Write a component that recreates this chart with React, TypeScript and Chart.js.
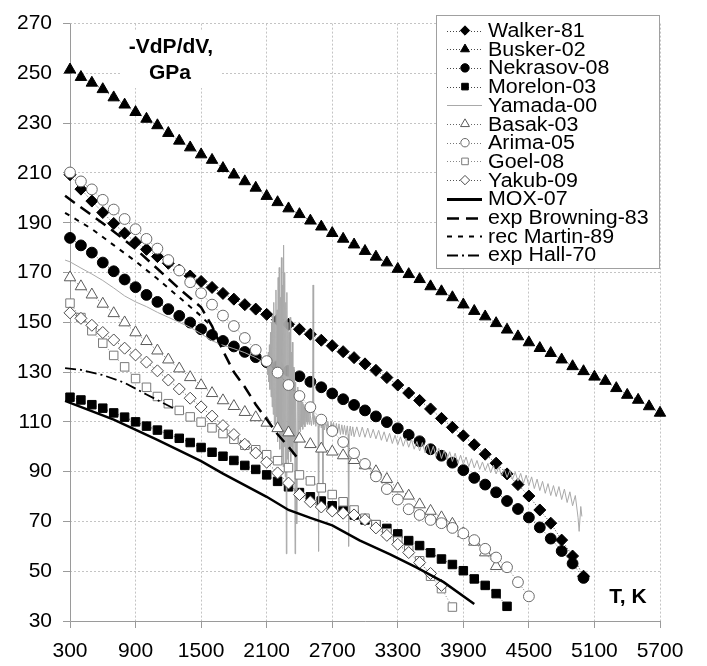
import React, { useEffect, useRef } from "react";
import { Chart, registerables } from "chart.js";

Chart.register(...registerables);

const FONT = "'Liberation Sans', Arial, Helvetica, sans-serif";

// Temperatures (K) of the marker series, every 100 K
const temps = [
  300, 400, 500, 600, 700, 800, 900, 1000, 1100, 1200, 1300, 1400, 1500, 1600, 1700, 1800, 1900, 2000,
  2100, 2200, 2300, 2400, 2500, 2600, 2700, 2800, 2900, 3000, 3100, 3200, 3300, 3400, 3500, 3600, 3700,
  3800, 3900, 4000, 4100, 4200, 4300, 4400, 4500, 4600, 4700, 4800, 4900, 5000, 5100, 5200, 5300, 5400,
  5500, 5600, 5700,
];

const walker = [
  209.3, 203.5, 198.7, 194.1, 189.7, 185.8, 182.2, 179.3, 176.4, 173.7, 171.0, 168.6, 166.4, 164.0, 161.6,
  159.3, 157.1, 155.3, 153.2, 151.0, 149.2, 147.2, 145.2, 142.8, 140.6, 138.2, 135.8, 133.3, 130.7, 127.8,
  124.8, 121.6, 118.6, 115.2, 111.4, 107.8, 104.4, 100.8, 97.0, 93.4, 89.1, 84.8, 80.2, 74.6, 69.3, 62.5,
  56.1, 48.0,
];
const busker = [
  251.5, 248.5, 246.2, 243.6, 240.3, 237.4, 234.4, 231.7, 229.1, 226.0, 222.9, 220.2, 217.4, 215.2, 211.9,
  209.3, 206.6, 204.0, 200.7, 198.2, 195.7, 193.4, 190.8, 188.4, 185.8, 183.5, 181.2, 178.6, 176.3, 174.0,
  171.4, 169.3, 167.3, 164.4, 162.4, 160.0, 157.1, 154.5, 152.3, 149.6, 147.0, 144.3, 141.9, 139.6, 137.6,
  135.0, 132.3, 130.3, 128.1, 126.4, 123.5, 120.8, 118.8, 116.2, 113.6,
];
const nekrasov = [
  183.9, 180.9, 178.0, 174.0, 170.5, 167.2, 164.1, 161.0, 158.2, 155.3, 152.6, 149.9, 147.2, 144.9, 142.5,
  140.3, 138.1, 136.0, 134.0, 132.3, 130.5, 128.3, 126.1, 123.9, 121.4, 119.1, 116.8, 114.6, 112.2, 109.9,
  107.4, 104.8, 102.2, 99.0, 96.4, 93.6, 90.6, 87.5, 84.8, 81.7, 78.2, 75.0, 71.6, 67.6, 63.1, 58.1, 53.1,
  47.3,
];
const morelon = [
  119.9, 118.8, 116.9, 115.5, 113.6, 111.9, 110.0, 108.3, 106.7, 105.0, 103.4, 101.7, 99.7, 97.8, 96.2,
  94.5, 92.5, 90.9, 88.7, 86.1, 83.9, 81.6, 79.9, 78.2, 76.3, 74.4, 72.6, 70.6, 68.7, 67.2, 65.0, 62.3,
  60.3, 57.4, 54.9, 52.7, 50.2, 46.9, 44.3, 41.0, 35.9,
];
const basak = [
  168.0, 164.4, 161.1, 157.4, 153.6, 149.9, 145.9, 142.4, 138.6, 135.0, 131.4, 127.9, 124.7, 121.5, 118.6,
  116.3, 113.9, 111.8, 109.6, 107.4, 105.7, 103.2, 101.0, 99.2, 98.0, 96.5, 94.6, 92.5, 90.1, 87.0, 83.2,
  80.3, 76.8, 74.2, 71.6, 69.0, 65.2, 61.8, 57.5, 52.0,
];
const arima = [
  210.2, 206.6, 203.4, 199.2, 195.3, 191.5, 187.4, 183.5, 179.6, 175.0, 170.8, 166.1, 161.7, 157.1, 152.7,
  148.5, 143.7, 138.9, 134.4, 129.8, 124.8, 120.4, 115.9, 110.9, 106.3, 101.9, 97.4, 93.1, 88.1, 83.0, 78.8,
  74.9, 72.6, 70.6, 69.3, 67.4, 65.2, 62.5, 59.0, 55.5, 51.6, 45.6, 39.9,
];
const goel = [
  157.7, 151.9, 146.6, 141.6, 136.7, 132.1, 127.4, 123.9, 120.2, 117.3, 114.6, 112.0, 109.9, 107.6, 105.3,
  103.0, 100.6, 98.8, 96.8, 94.4, 91.6, 88.7, 86.3, 83.5, 80.8, 77.9, 74.6, 71.3, 68.7, 65.4, 62.1, 58.6,
  54.2, 48.0, 43.0, 35.6,
];
const yakub = [
  153.8, 151.6, 148.8, 145.9, 142.9, 139.6, 136.9, 134.0, 130.5, 126.8, 123.2, 119.5, 116.0, 112.3, 108.5,
  104.9, 101.0, 97.5, 93.8, 89.5, 85.4, 80.8, 77.9, 75.8, 74.2, 73.3, 72.6, 70.7, 67.4, 64.4, 60.8, 57.5,
  53.5, 49.1, 44.3,
];

// Yamada-00 (T, value) — noisy measured curve
const yamada: [number, number][] = [
  [255, 175.0], [300, 174.3], [400, 171.8], [500, 169.4], [600, 166.8], [700, 163.8], [800, 160.6],
  [900, 158.2], [1000, 156.3], [1100, 154.0], [1200, 152.0], [1300, 150.0], [1400, 148.0], [1500, 145.4],
  [1600, 142.6], [1700, 140.8], [1800, 139.4], [1900, 137.8], [2000, 135.8], [2050, 134.5], [2100, 133.0],
  [2105, 134], [2110, 129], [2115, 138], [2120, 126], [2125, 141], [2130, 123], [2135, 146], [2140, 120],
  [2145, 150], [2150, 116], [2155, 153], [2160, 113], [2165, 158], [2170, 109], [2175, 150], [2180, 106],
  [2185, 163], [2190, 112], [2195, 155], [2200, 102], [2205, 168], [2210, 108], [2215, 172], [2220, 99],
  [2225, 160], [2230, 104], [2235, 176], [2240, 96], [2245, 165], [2250, 92], [2255, 181], [2260, 100],
  [2265, 170], [2270, 88], [2275, 158], [2280, 57], [2285, 162], [2290, 95], [2295, 150], [2300, 90],
  [2305, 146], [2310, 98], [2315, 152], [2320, 94], [2325, 138], [2330, 100], [2335, 142], [2340, 97],
  [2345, 132], [2350, 103], [2355, 130], [2360, 57], [2365, 126], [2370, 104], [2375, 69], [2380, 106],
  [2385, 124], [2390, 104], [2395, 121], [2400, 107], [2405, 120], [2410, 106], [2415, 119], [2420, 108],
  [2425, 118], [2430, 107], [2435, 117], [2440, 109], [2445, 116], [2450, 108], [2455, 116], [2460, 110],
  [2465, 115], [2470, 109], [2475, 115], [2480, 110], [2485, 114], [2490, 109], [2495, 114],
  [2500, 112.5], [2510, 108.5], [2520, 112.0], [2525, 165], [2530, 109.0], [2540, 112.5], [2550, 108.2],
  [2560, 112.0], [2570, 108.5], [2575, 58], [2580, 107.5], [2590, 111.5], [2600, 107.6], [2608, 111.0],
  [2615, 84.6], [2620, 110.5], [2630, 106.8], [2640, 110.6], [2650, 106.5], [2660, 110.2], [2675, 105.9],
  [2690, 110.0], [2700, 106.2], [2712, 109.8], [2725, 105.3], [2738, 109.4], [2750, 105.6], [2762, 109.2],
  [2775, 104.9], [2788, 108.8], [2800, 105.0], [2812, 108.6], [2825, 104.6], [2838, 108.4], [2845, 105.0],
  [2850, 60], [2855, 106.0], [2865, 108.3], [2875, 104.5], [2888, 108.0], [2900, 104.0], [2925, 108.0],
  [2950, 103.9], [2975, 107.9], [3000, 103.8], [3025, 107.5], [3050, 103.5], [3075, 107.0], [3100, 103.2],
  [3125, 106.6], [3150, 102.6], [3175, 106.0], [3200, 102.0], [3225, 105.4], [3250, 101.3], [3275, 104.6],
  [3300, 100.8], [3325, 104.0], [3350, 100.2], [3375, 103.5], [3400, 99.8], [3425, 103.0], [3450, 99.0],
  [3475, 102.1], [3500, 98.3], [3525, 101.7], [3550, 97.6], [3575, 101.0], [3600, 96.9], [3625, 100.2],
  [3650, 96.2], [3675, 99.4], [3700, 95.3], [3725, 98.6], [3750, 94.8], [3775, 98.0], [3800, 94.1],
  [3825, 97.4], [3850, 93.3], [3875, 96.6], [3900, 92.9], [3925, 95.9], [3950, 92.0], [3975, 95.2],
  [4000, 91.5], [4025, 94.5], [4050, 90.9], [4075, 93.9], [4100, 90.4], [4125, 93.3], [4150, 89.6],
  [4175, 92.6], [4200, 89.1], [4225, 91.9], [4250, 88.3], [4275, 91.1], [4300, 87.7], [4325, 90.5],
  [4350, 86.9], [4375, 89.8], [4400, 86.2], [4425, 89.3], [4450, 85.3], [4475, 88.6], [4500, 84.4],
  [4525, 87.9], [4550, 83.2], [4575, 87.0], [4600, 82.4], [4625, 86.1], [4650, 81.3], [4675, 85.2],
  [4700, 80.4], [4725, 84.4], [4750, 80.0], [4775, 84.0], [4800, 78.8], [4825, 83.0], [4850, 77.6],
  [4875, 81.9], [4900, 76.3], [4925, 80.4], [4950, 71.5], [4960, 66.0], [4975, 76.0], [4985, 72.0],
];

const moxT = [255, 700, 1100, 1500, 1700, 2100, 2300, 2500, 2700, 2950, 3230, 3470, 3720, 4000];
const moxV = [118.4, 110.9, 102.8, 94.2, 89.2, 79.9, 74.6, 71.4, 68.4, 62.4, 56.8, 51.5, 45.6, 36.8];

const browningT = [255, 500, 700, 900, 1100, 1300, 1500, 1600, 1700, 1800, 1900, 2000, 2100, 2200, 2300, 2400];
const browningV = [200.8, 193.0, 186.5, 179.5, 171.5, 163.5, 156.0, 148.5, 138.5, 130.0, 124.0, 117.0, 111.0, 105.0, 100.0, 94.5];

const martinT = [255, 500, 700, 900, 1100, 1300, 1500, 1600];
const martinV = [194.0, 187.5, 181.0, 174.5, 167.5, 160.0, 152.5, 148.0];

const hallT = [255, 400, 600, 800, 1000, 1250];
const hallV = [131.6, 130.9, 128.8, 125.7, 121.0, 115.4];

const xTicks = { min: 300, max: 5700, step: 600 };
const yTicks = { min: 30, max: 270, step: 20 };

type Style = "circle" | "triangle" | "rect" | "rectRot";

interface SeriesDef {
  label: string;
  xs: number[];
  ys: number[];
  marker?: { style: Style; r: number; fill: string; stroke: string };
  lineColor: string;
  lineWidth: number;
  dash: number[];
}

const pair = (p: [number, number][]) => ({ xs: p.map((q) => q[0]), ys: p.map((q) => q[1]) });

const DOT = [1, 2];

const seriesDefs: SeriesDef[] = [
  { label: "Walker-81", xs: temps, ys: walker, marker: { style: "rectRot", r: 6.0, fill: "#000", stroke: "#000" }, lineColor: "#444", lineWidth: 1, dash: DOT },
  { label: "Busker-02", xs: temps, ys: busker, marker: { style: "triangle", r: 6.6, fill: "#000", stroke: "#000" }, lineColor: "#444", lineWidth: 1, dash: DOT },
  { label: "Nekrasov-08", xs: temps, ys: nekrasov, marker: { style: "circle", r: 5.4, fill: "#000", stroke: "#000" }, lineColor: "#444", lineWidth: 1, dash: DOT },
  { label: "Morelon-03", xs: temps, ys: morelon, marker: { style: "rect", r: 6.0, fill: "#000", stroke: "#000" }, lineColor: "#444", lineWidth: 1, dash: DOT },
  { label: "Yamada-00", ...pair(yamada), lineColor: "#a9a9a9", lineWidth: 1, dash: [] },
  { label: "Basak-03", xs: temps, ys: basak, marker: { style: "triangle", r: 6.6, fill: "#fff", stroke: "#5a5a5a" }, lineColor: "#666", lineWidth: 1, dash: DOT },
  { label: "Arima-05", xs: temps, ys: arima, marker: { style: "circle", r: 5.4, fill: "#fff", stroke: "#6a6a6a" }, lineColor: "#777", lineWidth: 1, dash: DOT },
  { label: "Goel-08", xs: temps, ys: goel, marker: { style: "rect", r: 6.0, fill: "#fff", stroke: "#7a7a7a" }, lineColor: "#888", lineWidth: 1, dash: DOT },
  { label: "Yakub-09", xs: temps, ys: yakub, marker: { style: "rectRot", r: 6.0, fill: "#fff", stroke: "#4a4a4a" }, lineColor: "#555", lineWidth: 1, dash: DOT },
  { label: "MOX-07", xs: moxT, ys: moxV, lineColor: "#000", lineWidth: 2.5, dash: [] },
  { label: "exp Browning-83", xs: browningT, ys: browningV, lineColor: "#000", lineWidth: 2.5, dash: [12, 7] },
  { label: "rec Martin-89", xs: martinT, ys: martinV, lineColor: "#000", lineWidth: 2, dash: [5, 6] },
  { label: "exp Hall-70", xs: hallT, ys: hallV, lineColor: "#000", lineWidth: 1.8, dash: [11, 4, 2, 4] },
];

function markerPath(ctx: CanvasRenderingContext2D, style: Style, x: number, y: number, r: number) {
  ctx.beginPath();
  if (style === "circle") {
    ctx.arc(x, y, r, 0, Math.PI * 2);
  } else if (style === "triangle") {
    ctx.moveTo(x, y - r);
    ctx.lineTo(x + r * 0.866, y + r * 0.5);
    ctx.lineTo(x - r * 0.866, y + r * 0.5);
    ctx.closePath();
  } else if (style === "rect") {
    const s = r * 0.7071;
    ctx.rect(x - s, y - s, 2 * s, 2 * s);
  } else {
    ctx.moveTo(x, y - r);
    ctx.lineTo(x + r, y);
    ctx.lineTo(x, y + r);
    ctx.lineTo(x - r, y);
    ctx.closePath();
  }
}

const decorPlugin = {
  id: "decor",
  beforeDatasetsDraw(chart: Chart) {
    const ctx = chart.ctx;
    const a = chart.chartArea;
    ctx.save();
    // white text box behind the axis title
    ctx.fillStyle = "#fff";
    ctx.fillRect(122, 30, 98, 58);
    // axis lines
    ctx.strokeStyle = "#9a9a9a";
    ctx.lineWidth = 1;
    ctx.setLineDash([]);
    ctx.beginPath();
    ctx.moveTo(Math.round(a.left) + 0.5, a.top);
    ctx.lineTo(Math.round(a.left) + 0.5, Math.round(a.bottom) + 0.5);
    ctx.lineTo(a.right, Math.round(a.bottom) + 0.5);
    ctx.stroke();
    // axis titles
    ctx.fillStyle = "#000";
    ctx.font = `bold 21px ${FONT}`;
    ctx.textAlign = "center";
    ctx.textBaseline = "alphabetic";
    ctx.fillText("-VdP/dV,", 171, 53);
    ctx.fillText("GPa", 170, 79);
    ctx.fillText("T, K", 628, 603);
    ctx.restore();
  },
  afterDraw(chart: Chart) {
    const ctx = chart.ctx;
    ctx.save();
    const bx = 436, by = 15, bw = 223, bh = 253;
    ctx.fillStyle = "#fff";
    ctx.fillRect(bx, by, bw, bh);
    ctx.strokeStyle = "#a0a0a0";
    ctx.lineWidth = 1;
    ctx.strokeRect(bx + 0.5, by + 0.5, bw, bh);
    const x0 = 447, x1 = 482, xm = 465, tx = 488;
    seriesDefs.forEach((s, i) => {
      const y = 30.5 + i * 18.7;
      ctx.save();
      ctx.strokeStyle = s.lineColor;
      ctx.lineWidth = s.marker ? 1 : s.lineWidth === 2.5 && s.dash.length === 0 ? 3 : s.lineWidth;
      ctx.setLineDash(s.marker ? [1, 2] : s.dash);
      ctx.beginPath();
      ctx.moveTo(x0, Math.round(y) + 0.5);
      ctx.lineTo(x1, Math.round(y) + 0.5);
      ctx.stroke();
      ctx.restore();
      if (s.marker) {
        markerPath(ctx, s.marker.style, xm, y, s.marker.r * 0.78);
        ctx.fillStyle = s.marker.fill;
        ctx.fill();
        ctx.strokeStyle = s.marker.stroke;
        ctx.lineWidth = 1;
        ctx.setLineDash([]);
        ctx.stroke();
      }
      ctx.save();
      ctx.fillStyle = "#000";
      ctx.font = `20px ${FONT}`;
      ctx.textAlign = "left";
      ctx.textBaseline = "middle";
      ctx.translate(tx, y + 1);
      ctx.scale(1.07, 1);
      ctx.fillText(s.label, 0, 0);
      ctx.restore();
    });
    ctx.restore();
  },
};

export default function App() {
  const ref = useRef<HTMLCanvasElement | null>(null);
  useEffect(() => {
    if (!ref.current) return;
    Chart.defaults.font.family = FONT;
    const n = seriesDefs.length;
    const datasets = seriesDefs.map((s, i) => ({
      label: s.label,
      data: s.ys.map((v, k) => ({ x: s.xs[k], y: v })),
      showLine: true,
      borderColor: s.lineColor,
      borderWidth: s.lineWidth,
      borderDash: s.dash,
      backgroundColor: s.marker ? s.marker.fill : s.lineColor,
      pointStyle: s.marker ? s.marker.style : "circle",
      pointRadius: s.marker ? s.marker.r : 0,
      pointHoverRadius: s.marker ? s.marker.r : 0,
      pointBackgroundColor: s.marker ? s.marker.fill : s.lineColor,
      pointBorderColor: s.marker ? s.marker.stroke : s.lineColor,
      pointBorderWidth: 1,
      tension: 0,
      fill: false,
      clip: false as const,
      order: n - i,
    }));
    const chart = new Chart(ref.current, {
      type: "scatter",
      data: { datasets },
      options: {
        animation: false,
        responsive: false,
        events: [],
        layout: { padding: { left: 8, top: 15, right: 47, bottom: 0 } },
        plugins: { legend: { display: false }, tooltip: { enabled: false } },
        scales: {
          x: {
            type: "linear",
            min: xTicks.min,
            max: xTicks.max,
            ticks: {
              stepSize: xTicks.step,
              color: "#000",
              font: { size: 21 },
              padding: 11,
              maxRotation: 0,
              autoSkip: false,
              callback: (v: any) => String(v),
            },
            grid: { color: "#c4c4c4", lineWidth: 1, tickColor: "#9a9a9a", tickLength: 7 },
            border: { display: false, dash: [2, 2] },
            afterFit: (s: any) => { s.height = 45; },
          },
          y: {
            type: "linear",
            min: yTicks.min,
            max: yTicks.max,
            ticks: { stepSize: yTicks.step, color: "#000", font: { size: 21 }, padding: 11, callback: (v: any) => String(v) },
            grid: { color: "#c4c4c4", lineWidth: 1, tickColor: "#9a9a9a", tickLength: 7 },
            border: { display: false, dash: [2, 2] },
            afterFit: (s: any) => { s.width = 62; },
          },
        },
      },
      plugins: [decorPlugin],
    } as any);
    return () => chart.destroy();
  }, []);
  return (
    <div style={{ position: "absolute", left: 0, top: 0, width: 707, height: 666, background: "#fff" }}>
      <canvas ref={ref} width={707} height={666} style={{ display: "block" }} />
    </div>
  );
}
